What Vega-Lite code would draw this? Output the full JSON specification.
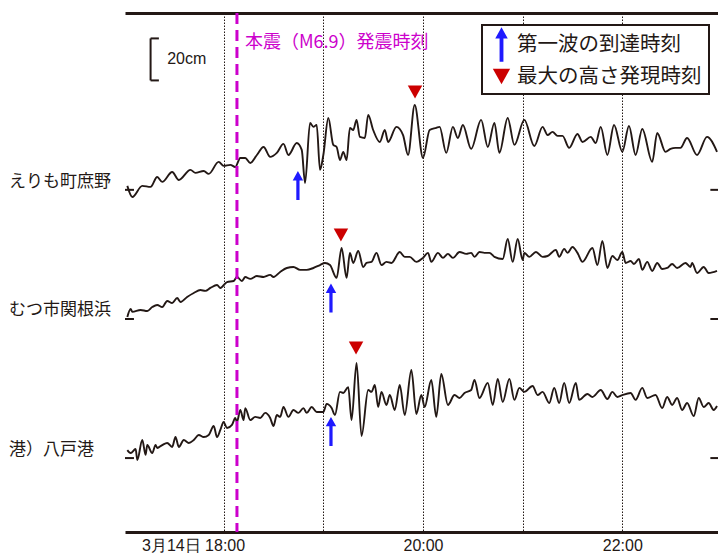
{
  "$schema": "https://vega.github.io/schema/vega-lite/v6.json",
  "width": 593,
  "height": 519,
  "autosize": {"type": "none"},
  "padding": {"left": 125, "top": 13, "right": 0, "bottom": 22},
  "background": "white",
  "config": {
    "view": {"stroke": null},
    "font": "Noto Sans CJK JP",
    "legend": {
      "orient": "none", "legendX": 357, "legendY": 12,
      "strokeColor": "#231815", "strokeWidth": 2, "fillColor": "white",
      "padding": 7, "labelFont": "Noto Sans CJK JP", "labelFontSize": 20.5,
      "labelColor": "#231815", "symbolSize": 580, "symbolStrokeWidth": 0,
      "labelOffset": 3, "rowPadding": 2, "labelLimit": 400
    }
  },
  "datasets": {
    "traces": [
      {"s":"えりも町庶野","t":"2025-03-14T17:02","v":164.8},
      {"s":"えりも町庶野","t":"2025-03-14T17:05","v":159.5},
      {"s":"えりも町庶野","t":"2025-03-14T17:11","v":164.8},
      {"s":"えりも町庶野","t":"2025-03-14T17:16","v":164.3},
      {"s":"えりも町庶野","t":"2025-03-14T17:20","v":169.0},
      {"s":"えりも町庶野","t":"2025-03-14T17:23","v":166.7},
      {"s":"えりも町庶野","t":"2025-03-14T17:29","v":171.4},
      {"s":"えりも町庶野","t":"2025-03-14T17:33","v":167.6},
      {"s":"えりも町庶野","t":"2025-03-14T17:40","v":172.4},
      {"s":"えりも町庶野","t":"2025-03-14T17:43","v":171.0},
      {"s":"えりも町庶野","t":"2025-03-14T17:48","v":171.9},
      {"s":"えりも町庶野","t":"2025-03-14T17:51","v":170.5},
      {"s":"えりも町庶野","t":"2025-03-14T17:57","v":176.2},
      {"s":"えりも町庶野","t":"2025-03-14T18:00","v":174.3},
      {"s":"えりも町庶野","t":"2025-03-14T18:04","v":174.8},
      {"s":"えりも町庶野","t":"2025-03-14T18:07","v":173.8},
      {"s":"えりも町庶野","t":"2025-03-14T18:10","v":178.1},
      {"s":"えりも町庶野","t":"2025-03-14T18:13","v":178.1},
      {"s":"えりも町庶野","t":"2025-03-14T18:16","v":175.7},
      {"s":"えりも町庶野","t":"2025-03-14T18:20","v":179.5},
      {"s":"えりも町庶野","t":"2025-03-14T18:24","v":183.3},
      {"s":"えりも町庶野","t":"2025-03-14T18:28","v":178.6},
      {"s":"えりも町庶野","t":"2025-03-14T18:32","v":180.5},
      {"s":"えりも町庶野","t":"2025-03-14T18:36","v":184.8},
      {"s":"えりも町庶野","t":"2025-03-14T18:39","v":179.5},
      {"s":"えりも町庶野","t":"2025-03-14T18:44","v":185.2},
      {"s":"えりも町庶野","t":"2025-03-14T18:47","v":181.9},
      {"s":"えりも町庶野","t":"2025-03-14T18:49","v":166.2},
      {"s":"えりも町庶野","t":"2025-03-14T18:52","v":194.8},
      {"s":"えりも町庶野","t":"2025-03-14T18:54","v":192.9},
      {"s":"えりも町庶野","t":"2025-03-14T18:56","v":193.8},
      {"s":"えりも町庶野","t":"2025-03-14T18:58","v":172.4},
      {"s":"えりも町庶野","t":"2025-03-14T19:00","v":179.5},
      {"s":"えりも町庶野","t":"2025-03-14T19:03","v":197.1},
      {"s":"えりも町庶野","t":"2025-03-14T19:06","v":184.3},
      {"s":"えりも町庶野","t":"2025-03-14T19:08","v":183.3},
      {"s":"えりも町庶野","t":"2025-03-14T19:10","v":177.1},
      {"s":"えりも町庶野","t":"2025-03-14T19:12","v":181.0},
      {"s":"えりも町庶野","t":"2025-03-14T19:14","v":177.1},
      {"s":"えりも町庶野","t":"2025-03-14T19:16","v":192.4},
      {"s":"えりも町庶野","t":"2025-03-14T19:18","v":191.4},
      {"s":"えりも町庶野","t":"2025-03-14T19:20","v":196.2},
      {"s":"えりも町庶野","t":"2025-03-14T19:22","v":188.1},
      {"s":"えりも町庶野","t":"2025-03-14T19:25","v":187.6},
      {"s":"えりも町庶野","t":"2025-03-14T19:27","v":198.6},
      {"s":"えりも町庶野","t":"2025-03-14T19:30","v":191.4},
      {"s":"えりも町庶野","t":"2025-03-14T19:34","v":185.7},
      {"s":"えりも町庶野","t":"2025-03-14T19:37","v":191.4},
      {"s":"えりも町庶野","t":"2025-03-14T19:39","v":185.7},
      {"s":"えりも町庶野","t":"2025-03-14T19:44","v":192.9},
      {"s":"えりも町庶野","t":"2025-03-14T19:48","v":189.0},
      {"s":"えりも町庶野","t":"2025-03-14T19:51","v":179.5},
      {"s":"えりも町庶野","t":"2025-03-14T19:55","v":203.3},
      {"s":"えりも町庶野","t":"2025-03-14T20:00","v":178.1},
      {"s":"えりも町庶野","t":"2025-03-14T20:04","v":191.4},
      {"s":"えりも町庶野","t":"2025-03-14T20:08","v":192.4},
      {"s":"えりも町庶野","t":"2025-03-14T20:10","v":192.9},
      {"s":"えりも町庶野","t":"2025-03-14T20:14","v":180.5},
      {"s":"えりも町庶野","t":"2025-03-14T20:18","v":192.9},
      {"s":"えりも町庶野","t":"2025-03-14T20:21","v":187.6},
      {"s":"えりも町庶野","t":"2025-03-14T20:24","v":193.8},
      {"s":"えりも町庶野","t":"2025-03-14T20:29","v":182.4},
      {"s":"えりも町庶野","t":"2025-03-14T20:35","v":196.2},
      {"s":"えりも町庶野","t":"2025-03-14T20:39","v":183.3},
      {"s":"えりも町庶野","t":"2025-03-14T20:43","v":194.8},
      {"s":"えりも町庶野","t":"2025-03-14T20:46","v":180.5},
      {"s":"えりも町庶野","t":"2025-03-14T20:51","v":197.1},
      {"s":"えりも町庶野","t":"2025-03-14T20:55","v":184.3},
      {"s":"えりも町庶野","t":"2025-03-14T21:01","v":196.2},
      {"s":"えりも町庶野","t":"2025-03-14T21:07","v":183.8},
      {"s":"えりも町庶野","t":"2025-03-14T21:12","v":192.9},
      {"s":"えりも町庶野","t":"2025-03-14T21:15","v":189.0},
      {"s":"えりも町庶野","t":"2025-03-14T21:18","v":190.5},
      {"s":"えりも町庶野","t":"2025-03-14T21:21","v":188.6},
      {"s":"えりも町庶野","t":"2025-03-14T21:24","v":188.6},
      {"s":"えりも町庶野","t":"2025-03-14T21:28","v":182.9},
      {"s":"えりも町庶野","t":"2025-03-14T21:33","v":189.5},
      {"s":"えりも町庶野","t":"2025-03-14T21:36","v":185.7},
      {"s":"えりも町庶野","t":"2025-03-14T21:41","v":188.1},
      {"s":"えりも町庶野","t":"2025-03-14T21:44","v":185.2},
      {"s":"えりも町庶野","t":"2025-03-14T21:47","v":192.9},
      {"s":"えりも町庶野","t":"2025-03-14T21:51","v":179.5},
      {"s":"えりも町庶野","t":"2025-03-14T21:55","v":193.8},
      {"s":"えりも町庶野","t":"2025-03-14T22:00","v":181.0},
      {"s":"えりも町庶野","t":"2025-03-14T22:04","v":193.3},
      {"s":"えりも町庶野","t":"2025-03-14T22:08","v":179.5},
      {"s":"えりも町庶野","t":"2025-03-14T22:12","v":191.9},
      {"s":"えりも町庶野","t":"2025-03-14T22:18","v":176.2},
      {"s":"えりも町庶野","t":"2025-03-14T22:21","v":190.0},
      {"s":"えりも町庶野","t":"2025-03-14T22:26","v":181.0},
      {"s":"えりも町庶野","t":"2025-03-14T22:29","v":182.4},
      {"s":"えりも町庶野","t":"2025-03-14T22:32","v":182.9},
      {"s":"えりも町庶野","t":"2025-03-14T22:35","v":182.9},
      {"s":"えりも町庶野","t":"2025-03-14T22:39","v":187.6},
      {"s":"えりも町庶野","t":"2025-03-14T22:45","v":179.5},
      {"s":"えりも町庶野","t":"2025-03-14T22:51","v":188.1},
      {"s":"えりも町庶野","t":"2025-03-14T22:57","v":181.0},

      {"s":"むつ市関根浜","t":"2025-03-14T17:02","v":102.4},
      {"s":"むつ市関根浜","t":"2025-03-14T17:04","v":106.2},
      {"s":"むつ市関根浜","t":"2025-03-14T17:05","v":104.8},
      {"s":"むつ市関根浜","t":"2025-03-14T17:10","v":105.7},
      {"s":"むつ市関根浜","t":"2025-03-14T17:14","v":105.2},
      {"s":"むつ市関根浜","t":"2025-03-14T17:17","v":107.1},
      {"s":"むつ市関根浜","t":"2025-03-14T17:20","v":108.1},
      {"s":"むつ市関根浜","t":"2025-03-14T17:23","v":107.1},
      {"s":"むつ市関根浜","t":"2025-03-14T17:26","v":110.0},
      {"s":"むつ市関根浜","t":"2025-03-14T17:29","v":109.0},
      {"s":"むつ市関根浜","t":"2025-03-14T17:32","v":111.4},
      {"s":"むつ市関根浜","t":"2025-03-14T17:34","v":109.5},
      {"s":"むつ市関根浜","t":"2025-03-14T17:38","v":111.9},
      {"s":"むつ市関根浜","t":"2025-03-14T17:42","v":113.8},
      {"s":"むつ市関根浜","t":"2025-03-14T17:46","v":115.2},
      {"s":"むつ市関根浜","t":"2025-03-14T17:49","v":114.8},
      {"s":"むつ市関根浜","t":"2025-03-14T17:52","v":116.2},
      {"s":"むつ市関根浜","t":"2025-03-14T17:56","v":117.6},
      {"s":"むつ市関根浜","t":"2025-03-14T17:58","v":116.2},
      {"s":"むつ市関根浜","t":"2025-03-14T18:02","v":119.0},
      {"s":"むつ市関根浜","t":"2025-03-14T18:06","v":119.5},
      {"s":"むつ市関根浜","t":"2025-03-14T18:08","v":121.4},
      {"s":"むつ市関根浜","t":"2025-03-14T18:11","v":119.5},
      {"s":"むつ市関根浜","t":"2025-03-14T18:13","v":121.4},
      {"s":"むつ市関根浜","t":"2025-03-14T18:16","v":120.5},
      {"s":"むつ市関根浜","t":"2025-03-14T18:20","v":121.9},
      {"s":"むつ市関根浜","t":"2025-03-14T18:24","v":121.4},
      {"s":"むつ市関根浜","t":"2025-03-14T18:28","v":122.4},
      {"s":"むつ市関根浜","t":"2025-03-14T18:30","v":121.4},
      {"s":"むつ市関根浜","t":"2025-03-14T18:34","v":123.8},
      {"s":"むつ市関根浜","t":"2025-03-14T18:38","v":125.7},
      {"s":"むつ市関根浜","t":"2025-03-14T18:42","v":126.2},
      {"s":"むつ市関根浜","t":"2025-03-14T18:46","v":124.8},
      {"s":"むつ市関根浜","t":"2025-03-14T18:50","v":124.8},
      {"s":"むつ市関根浜","t":"2025-03-14T18:54","v":125.7},
      {"s":"むつ市関根浜","t":"2025-03-14T18:58","v":127.1},
      {"s":"むつ市関根浜","t":"2025-03-14T19:01","v":128.1},
      {"s":"むつ市関根浜","t":"2025-03-14T19:04","v":127.1},
      {"s":"むつ市関根浜","t":"2025-03-14T19:08","v":121.0},
      {"s":"むつ市関根浜","t":"2025-03-14T19:11","v":135.2},
      {"s":"むつ市関根浜","t":"2025-03-14T19:14","v":121.0},
      {"s":"むつ市関根浜","t":"2025-03-14T19:16","v":132.9},
      {"s":"むつ市関根浜","t":"2025-03-14T19:18","v":128.1},
      {"s":"むつ市関根浜","t":"2025-03-14T19:21","v":133.8},
      {"s":"むつ市関根浜","t":"2025-03-14T19:24","v":126.2},
      {"s":"むつ市関根浜","t":"2025-03-14T19:26","v":128.1},
      {"s":"むつ市関根浜","t":"2025-03-14T19:29","v":128.6},
      {"s":"むつ市関根浜","t":"2025-03-14T19:32","v":132.9},
      {"s":"むつ市関根浜","t":"2025-03-14T19:35","v":127.1},
      {"s":"むつ市関根浜","t":"2025-03-14T19:38","v":128.6},
      {"s":"むつ市関根浜","t":"2025-03-14T19:41","v":128.1},
      {"s":"むつ市関根浜","t":"2025-03-14T19:46","v":133.3},
      {"s":"むつ市関根浜","t":"2025-03-14T19:49","v":131.0},
      {"s":"むつ市関根浜","t":"2025-03-14T19:52","v":131.0},
      {"s":"むつ市関根浜","t":"2025-03-14T19:56","v":128.6},
      {"s":"むつ市関根浜","t":"2025-03-14T20:00","v":130.5},
      {"s":"むつ市関根浜","t":"2025-03-14T20:03","v":132.9},
      {"s":"むつ市関根浜","t":"2025-03-14T20:05","v":128.6},
      {"s":"むつ市関根浜","t":"2025-03-14T20:09","v":132.9},
      {"s":"むつ市関根浜","t":"2025-03-14T20:12","v":130.5},
      {"s":"むつ市関根浜","t":"2025-03-14T20:15","v":132.4},
      {"s":"むつ市関根浜","t":"2025-03-14T20:18","v":130.5},
      {"s":"むつ市関根浜","t":"2025-03-14T20:22","v":133.3},
      {"s":"むつ市関根浜","t":"2025-03-14T20:26","v":132.4},
      {"s":"むつ市関根浜","t":"2025-03-14T20:29","v":132.9},
      {"s":"むつ市関根浜","t":"2025-03-14T20:31","v":131.0},
      {"s":"むつ市関根浜","t":"2025-03-14T20:34","v":133.3},
      {"s":"むつ市関根浜","t":"2025-03-14T20:37","v":132.9},
      {"s":"むつ市関根浜","t":"2025-03-14T20:40","v":132.9},
      {"s":"むつ市関根浜","t":"2025-03-14T20:43","v":131.0},
      {"s":"むつ市関根浜","t":"2025-03-14T20:48","v":130.0},
      {"s":"むつ市関根浜","t":"2025-03-14T20:51","v":139.5},
      {"s":"むつ市関根浜","t":"2025-03-14T20:54","v":128.6},
      {"s":"むつ市関根浜","t":"2025-03-14T20:57","v":139.5},
      {"s":"むつ市関根浜","t":"2025-03-14T21:00","v":129.5},
      {"s":"むつ市関根浜","t":"2025-03-14T21:01","v":132.9},
      {"s":"むつ市関根浜","t":"2025-03-14T21:04","v":131.0},
      {"s":"むつ市関根浜","t":"2025-03-14T21:08","v":133.3},
      {"s":"むつ市関根浜","t":"2025-03-14T21:12","v":131.0},
      {"s":"むつ市関根浜","t":"2025-03-14T21:15","v":131.4},
      {"s":"むつ市関根浜","t":"2025-03-14T21:20","v":134.3},
      {"s":"むつ市関根浜","t":"2025-03-14T21:22","v":131.0},
      {"s":"むつ市関根浜","t":"2025-03-14T21:25","v":134.8},
      {"s":"むつ市関根浜","t":"2025-03-14T21:27","v":132.9},
      {"s":"むつ市関根浜","t":"2025-03-14T21:30","v":135.7},
      {"s":"むつ市関根浜","t":"2025-03-14T21:33","v":132.9},
      {"s":"むつ市関根浜","t":"2025-03-14T21:36","v":128.6},
      {"s":"むつ市関根浜","t":"2025-03-14T21:42","v":135.2},
      {"s":"むつ市関根浜","t":"2025-03-14T21:45","v":127.1},
      {"s":"むつ市関根浜","t":"2025-03-14T21:48","v":138.6},
      {"s":"むつ市関根浜","t":"2025-03-14T21:51","v":125.7},
      {"s":"むつ市関根浜","t":"2025-03-14T21:54","v":131.4},
      {"s":"むつ市関根浜","t":"2025-03-14T21:57","v":129.5},
      {"s":"むつ市関根浜","t":"2025-03-14T22:00","v":133.3},
      {"s":"むつ市関根浜","t":"2025-03-14T22:02","v":128.1},
      {"s":"むつ市関根浜","t":"2025-03-14T22:05","v":129.0},
      {"s":"むつ市関根浜","t":"2025-03-14T22:07","v":127.6},
      {"s":"むつ市関根浜","t":"2025-03-14T22:10","v":130.0},
      {"s":"むつ市関根浜","t":"2025-03-14T22:12","v":124.8},
      {"s":"むつ市関根浜","t":"2025-03-14T22:15","v":128.6},
      {"s":"むつ市関根浜","t":"2025-03-14T22:18","v":124.3},
      {"s":"むつ市関根浜","t":"2025-03-14T22:21","v":128.1},
      {"s":"むつ市関根浜","t":"2025-03-14T22:24","v":125.2},
      {"s":"むつ市関根浜","t":"2025-03-14T22:27","v":125.7},
      {"s":"むつ市関根浜","t":"2025-03-14T22:30","v":127.6},
      {"s":"むつ市関根浜","t":"2025-03-14T22:33","v":125.7},
      {"s":"むつ市関根浜","t":"2025-03-14T22:38","v":128.1},
      {"s":"むつ市関根浜","t":"2025-03-14T22:41","v":126.2},
      {"s":"むつ市関根浜","t":"2025-03-14T22:42","v":128.1},
      {"s":"むつ市関根浜","t":"2025-03-14T22:45","v":123.3},
      {"s":"むつ市関根浜","t":"2025-03-14T22:49","v":126.2},
      {"s":"むつ市関根浜","t":"2025-03-14T22:52","v":123.3},
      {"s":"むつ市関根浜","t":"2025-03-14T22:57","v":124.3},

      {"s":"八戸港","t":"2025-03-14T17:02","v":39.0},
      {"s":"八戸港","t":"2025-03-14T17:04","v":37.6},
      {"s":"八戸港","t":"2025-03-14T17:07","v":39.5},
      {"s":"八戸港","t":"2025-03-14T17:08","v":34.3},
      {"s":"八戸港","t":"2025-03-14T17:11","v":43.8},
      {"s":"八戸港","t":"2025-03-14T17:13","v":36.7},
      {"s":"八戸港","t":"2025-03-14T17:14","v":41.4},
      {"s":"八戸港","t":"2025-03-14T17:17","v":37.6},
      {"s":"八戸港","t":"2025-03-14T17:19","v":41.4},
      {"s":"八戸港","t":"2025-03-14T17:20","v":40.0},
      {"s":"八戸港","t":"2025-03-14T17:23","v":41.4},
      {"s":"八戸港","t":"2025-03-14T17:26","v":42.4},
      {"s":"八戸港","t":"2025-03-14T17:29","v":40.5},
      {"s":"八戸港","t":"2025-03-14T17:31","v":45.2},
      {"s":"八戸港","t":"2025-03-14T17:33","v":40.5},
      {"s":"八戸港","t":"2025-03-14T17:36","v":43.8},
      {"s":"八戸港","t":"2025-03-14T17:39","v":42.4},
      {"s":"八戸港","t":"2025-03-14T17:42","v":43.8},
      {"s":"八戸港","t":"2025-03-14T17:45","v":46.2},
      {"s":"八戸港","t":"2025-03-14T17:48","v":45.2},
      {"s":"八戸港","t":"2025-03-14T17:51","v":46.2},
      {"s":"八戸港","t":"2025-03-14T17:54","v":50.5},
      {"s":"八戸港","t":"2025-03-14T17:56","v":45.2},
      {"s":"八戸港","t":"2025-03-14T17:58","v":48.6},
      {"s":"八戸港","t":"2025-03-14T18:00","v":52.4},
      {"s":"八戸港","t":"2025-03-14T18:02","v":49.5},
      {"s":"八戸港","t":"2025-03-14T18:05","v":51.0},
      {"s":"八戸港","t":"2025-03-14T18:07","v":54.3},
      {"s":"八戸港","t":"2025-03-14T18:08","v":52.4},
      {"s":"八戸港","t":"2025-03-14T18:10","v":58.1},
      {"s":"八戸港","t":"2025-03-14T18:12","v":53.3},
      {"s":"八戸港","t":"2025-03-14T18:13","v":59.0},
      {"s":"八戸港","t":"2025-03-14T18:16","v":53.3},
      {"s":"八戸港","t":"2025-03-14T18:19","v":54.8},
      {"s":"八戸港","t":"2025-03-14T18:22","v":54.3},
      {"s":"八戸港","t":"2025-03-14T18:25","v":56.7},
      {"s":"八戸港","t":"2025-03-14T18:28","v":54.3},
      {"s":"八戸港","t":"2025-03-14T18:30","v":50.5},
      {"s":"八戸港","t":"2025-03-14T18:32","v":55.7},
      {"s":"八戸港","t":"2025-03-14T18:34","v":54.8},
      {"s":"八戸港","t":"2025-03-14T18:36","v":59.5},
      {"s":"八戸港","t":"2025-03-14T18:39","v":54.8},
      {"s":"八戸港","t":"2025-03-14T18:42","v":58.1},
      {"s":"八戸港","t":"2025-03-14T18:45","v":56.7},
      {"s":"八戸港","t":"2025-03-14T18:48","v":59.0},
      {"s":"八戸港","t":"2025-03-14T18:50","v":56.7},
      {"s":"八戸港","t":"2025-03-14T18:53","v":59.5},
      {"s":"八戸港","t":"2025-03-14T18:56","v":57.1},
      {"s":"八戸港","t":"2025-03-14T19:00","v":57.1},
      {"s":"八戸港","t":"2025-03-14T19:02","v":61.0},
      {"s":"八戸港","t":"2025-03-14T19:05","v":59.0},
      {"s":"八戸港","t":"2025-03-14T19:07","v":55.7},
      {"s":"八戸港","t":"2025-03-14T19:10","v":66.7},
      {"s":"八戸港","t":"2025-03-14T19:12","v":66.2},
      {"s":"八戸港","t":"2025-03-14T19:15","v":69.0},
      {"s":"八戸港","t":"2025-03-14T19:17","v":53.3},
      {"s":"八戸港","t":"2025-03-14T19:20","v":80.5},
      {"s":"八戸港","t":"2025-03-14T19:23","v":45.7},
      {"s":"八戸港","t":"2025-03-14T19:27","v":67.6},
      {"s":"八戸港","t":"2025-03-14T19:29","v":66.7},
      {"s":"八戸港","t":"2025-03-14T19:31","v":70.0},
      {"s":"八戸港","t":"2025-03-14T19:33","v":59.5},
      {"s":"八戸港","t":"2025-03-14T19:35","v":66.7},
      {"s":"八戸港","t":"2025-03-14T19:38","v":60.5},
      {"s":"八戸港","t":"2025-03-14T19:40","v":65.2},
      {"s":"八戸港","t":"2025-03-14T19:43","v":58.1},
      {"s":"八戸港","t":"2025-03-14T19:46","v":70.0},
      {"s":"八戸港","t":"2025-03-14T19:49","v":55.7},
      {"s":"八戸港","t":"2025-03-14T19:53","v":77.1},
      {"s":"八戸港","t":"2025-03-14T19:56","v":56.2},
      {"s":"八戸港","t":"2025-03-14T19:59","v":65.2},
      {"s":"八戸港","t":"2025-03-14T20:01","v":59.5},
      {"s":"八戸港","t":"2025-03-14T20:05","v":72.4},
      {"s":"八戸港","t":"2025-03-14T20:08","v":54.8},
      {"s":"八戸港","t":"2025-03-14T20:11","v":75.2},
      {"s":"八戸港","t":"2025-03-14T20:15","v":60.5},
      {"s":"八戸港","t":"2025-03-14T20:19","v":65.2},
      {"s":"八戸港","t":"2025-03-14T20:22","v":63.8},
      {"s":"八戸港","t":"2025-03-14T20:25","v":66.2},
      {"s":"八戸港","t":"2025-03-14T20:29","v":67.6},
      {"s":"八戸港","t":"2025-03-14T20:31","v":72.4},
      {"s":"八戸港","t":"2025-03-14T20:34","v":63.8},
      {"s":"八戸港","t":"2025-03-14T20:39","v":71.0},
      {"s":"八戸港","t":"2025-03-14T20:42","v":60.5},
      {"s":"八戸港","t":"2025-03-14T20:45","v":72.9},
      {"s":"八戸港","t":"2025-03-14T20:48","v":61.9},
      {"s":"八戸港","t":"2025-03-14T20:52","v":72.9},
      {"s":"八戸港","t":"2025-03-14T20:55","v":62.9},
      {"s":"八戸港","t":"2025-03-14T20:58","v":68.6},
      {"s":"八戸港","t":"2025-03-14T21:01","v":66.7},
      {"s":"八戸港","t":"2025-03-14T21:06","v":69.5},
      {"s":"八戸港","t":"2025-03-14T21:09","v":65.2},
      {"s":"八戸港","t":"2025-03-14T21:12","v":66.7},
      {"s":"八戸港","t":"2025-03-14T21:16","v":61.4},
      {"s":"八戸港","t":"2025-03-14T21:19","v":68.6},
      {"s":"八戸港","t":"2025-03-14T21:22","v":61.4},
      {"s":"八戸港","t":"2025-03-14T21:25","v":71.0},
      {"s":"八戸港","t":"2025-03-14T21:28","v":61.4},
      {"s":"八戸港","t":"2025-03-14T21:32","v":71.0},
      {"s":"八戸港","t":"2025-03-14T21:34","v":62.9},
      {"s":"八戸港","t":"2025-03-14T21:39","v":65.7},
      {"s":"八戸港","t":"2025-03-14T21:42","v":64.3},
      {"s":"八戸港","t":"2025-03-14T21:47","v":67.6},
      {"s":"八戸港","t":"2025-03-14T21:51","v":63.3},
      {"s":"八戸港","t":"2025-03-14T21:54","v":66.7},
      {"s":"八戸港","t":"2025-03-14T21:57","v":64.3},
      {"s":"八戸港","t":"2025-03-14T22:00","v":65.2},
      {"s":"八戸港","t":"2025-03-14T22:05","v":66.2},
      {"s":"八戸港","t":"2025-03-14T22:08","v":62.9},
      {"s":"八戸港","t":"2025-03-14T22:12","v":68.6},
      {"s":"八戸港","t":"2025-03-14T22:15","v":63.8},
      {"s":"八戸港","t":"2025-03-14T22:20","v":65.2},
      {"s":"八戸港","t":"2025-03-14T22:24","v":59.0},
      {"s":"八戸港","t":"2025-03-14T22:27","v":64.3},
      {"s":"八戸港","t":"2025-03-14T22:30","v":60.5},
      {"s":"八戸港","t":"2025-03-14T22:33","v":63.8},
      {"s":"八戸港","t":"2025-03-14T22:36","v":58.1},
      {"s":"八戸港","t":"2025-03-14T22:39","v":61.4},
      {"s":"八戸港","t":"2025-03-14T22:43","v":55.2},
      {"s":"八戸港","t":"2025-03-14T22:46","v":63.8},
      {"s":"八戸港","t":"2025-03-14T22:49","v":59.5},
      {"s":"八戸港","t":"2025-03-14T22:52","v":61.4},
      {"s":"八戸港","t":"2025-03-14T22:55","v":58.1},
      {"s":"八戸港","t":"2025-03-14T22:57","v":60.0}
    ],
    "rules": [
      {"t":"2025-03-14T17:00:36","t2":"2025-03-14T17:06","v":162.9,"v2":162.9},
      {"t":"2025-03-14T17:00:36","t2":"2025-03-14T17:06","v":101.4,"v2":101.4},
      {"t":"2025-03-14T17:00:36","t2":"2025-03-14T17:06","v":35.2,"v2":35.2},
      {"t":"2025-03-14T22:53","t2":"2025-03-14T22:58","v":162.9,"v2":162.9},
      {"t":"2025-03-14T22:53","t2":"2025-03-14T22:58","v":101.4,"v2":101.4},
      {"t":"2025-03-14T22:53","t2":"2025-03-14T22:58","v":35.2,"v2":35.2},
      {"t":"2025-03-14T17:16","t2":"2025-03-14T17:16","v":215,"v2":235},
      {"t":"2025-03-14T17:16","t2":"2025-03-14T17:21","v":215,"v2":215},
      {"t":"2025-03-14T17:16","t2":"2025-03-14T17:21","v":235,"v2":235}
    ],
    "markers": [
      {"t":"2025-03-14T18:44:42","v":165.0,"k":"第一波の到達時刻"},
      {"t":"2025-03-14T19:04:36","v":111.4,"k":"第一波の到達時刻"},
      {"t":"2025-03-14T19:04:36","v":47.9,"k":"第一波の到達時刻"},
      {"t":"2025-03-14T19:55:12","v":209.5,"k":"最大の高さ発現時刻"},
      {"t":"2025-03-14T19:10:36","v":141.4,"k":"最大の高さ発現時刻"},
      {"t":"2025-03-14T19:19:42","v":87.6,"k":"最大の高さ発現時刻"}
    ],
    "stations": [
      {"t":"2025-03-14T17:00:36","v":166.7,"label":"えりも町庶野"},
      {"t":"2025-03-14T17:00:36","v":105.7,"label":"むつ市関根浜"},
      {"t":"2025-03-14T17:00:36","v":39.0,"label":"港）八戸港"}
    ]
  },
  "resolve": {"scale": {"x": "shared", "y": "shared"}, "axis": {"x": "independent"}},
  "layer": [
    {
      "data": {"name": "traces"},
      "mark": {"type": "line", "color": "#231815", "strokeWidth": 1.9, "interpolate": "monotone"},
      "encoding": {
        "x": {
          "field": "t", "type": "temporal",
          "scale": {"domain": [
            {"year": 2025, "month": 3, "date": 14, "hours": 17, "minutes": 0, "seconds": 36},
            {"year": 2025, "month": 3, "date": 14, "hours": 22, "minutes": 57, "seconds": 36}
          ], "nice": false},
          "axis": {
            "orient": "bottom", "title": null,
            "values": [
              {"year": 2025, "month": 3, "date": 14, "hours": 18},
              {"year": 2025, "month": 3, "date": 14, "hours": 19},
              {"year": 2025, "month": 3, "date": 14, "hours": 20},
              {"year": 2025, "month": 3, "date": 14, "hours": 21},
              {"year": 2025, "month": 3, "date": 14, "hours": 22}
            ],
            "labelExpr": "hours(datum.value) % 2 == 0 ? (hours(datum.value) == 18 ? '3月14日 18:00' : timeFormat(datum.value, '%H:%M')) : ''",
            "labelAlign": {"condition": {"test": "hours(datum.value) == 18", "value": "right"}, "value": "center"},
            "labelOffset": {"condition": {"test": "hours(datum.value) == 18", "value": 21}, "value": 0},
            "labelOverlap": false, "labelBound": false, "labelFlush": false,
            "labelFont": "Liberation Sans", "labelFontSize": 16, "labelColor": "#231815",
            "labelPadding": 5,
            "ticks": false,
            "domain": true, "domainWidth": 3, "domainColor": "#231815",
            "grid": true, "gridColor": "#231815", "gridWidth": 1, "gridDash": [1.5, 1.5], "gridOpacity": 1
          }
        },
        "y": {
          "field": "v", "type": "quantitative",
          "scale": {"domain": [0, 247.1], "nice": false, "zero": false},
          "axis": {
            "orient": "left", "title": null, "labels": false, "ticks": false, "grid": false,
            "domain": true, "domainWidth": 3, "domainColor": "#231815"
          }
        },
        "detail": {"field": "s", "type": "nominal"}
      }
    },
    {
      "data": {"values": [{"t": "2025-03-14T18:08"}]},
      "mark": {"type": "rule", "color": "#cc00cc", "strokeWidth": 3, "strokeDash": [11, 6]},
      "encoding": {
        "x": {
          "field": "t", "type": "temporal",
          "axis": {"orient": "top", "title": null, "labels": false, "ticks": false, "grid": false,
                   "domain": true, "domainWidth": 3, "domainColor": "#231815"}
        }
      }
    },
    {
      "data": {"name": "rules"},
      "mark": {"type": "rule", "color": "#231815", "strokeWidth": 2},
      "encoding": {
        "x": {"field": "t", "type": "temporal", "axis": null},
        "x2": {"field": "t2"},
        "y": {"field": "v", "type": "quantitative", "axis": null},
        "y2": {"field": "v2"}
      }
    },
    {
      "data": {"name": "markers"},
      "mark": {"type": "point", "filled": true, "size": 405, "opacity": 1, "strokeWidth": 0},
      "encoding": {
        "x": {"field": "t", "type": "temporal", "axis": null},
        "y": {"field": "v", "type": "quantitative", "axis": null},
        "shape": {
          "field": "k", "type": "nominal", "title": null,
          "legend": {"symbolSize": 580, "labelLimit": 400},
          "scale": {
            "domain": ["第一波の到達時刻", "最大の高さ発現時刻"],
            "range": [
              "M0,-1.44L-0.52,-0.5L-0.16,-0.5L-0.16,1.44L0.16,1.44L0.16,-0.5L0.52,-0.5Z",
              "M-0.72,-0.65L0.72,-0.65L0,0.65Z"
            ]
          }
        },
        "color": {
          "field": "k", "type": "nominal", "title": null,
          "legend": {"symbolSize": 580, "labelLimit": 400},
          "scale": {"domain": ["第一波の到達時刻", "最大の高さ発現時刻"], "range": ["#1f1aff", "#cc0000"]}
        }
      }
    },
    {
      "data": {"values": [{"t": "2025-03-14T17:26", "v": 225, "label": "20cm"}]},
      "mark": {"type": "text", "align": "left", "baseline": "middle", "font": "Liberation Sans", "fontSize": 16, "color": "#231815"},
      "encoding": {
        "x": {"field": "t", "type": "temporal", "axis": null},
        "y": {"field": "v", "type": "quantitative", "axis": null},
        "text": {"field": "label"}
      }
    },
    {
      "data": {"values": [{"t": "2025-03-14T18:08", "v": 233, "label": "本震（M6.9）発震時刻"}]},
      "mark": {"type": "text", "align": "left", "baseline": "middle", "dx": 8, "font": "Noto Sans CJK JP", "fontSize": 18, "color": "#cc00cc"},
      "encoding": {
        "x": {"field": "t", "type": "temporal", "axis": null},
        "y": {"field": "v", "type": "quantitative", "axis": null},
        "text": {"field": "label"}
      }
    },
    {
      "data": {"name": "stations"},
      "mark": {"type": "text", "align": "left", "baseline": "middle", "dx": -116, "font": "Noto Sans CJK JP", "fontSize": 17, "color": "#231815"},
      "encoding": {
        "x": {"field": "t", "type": "temporal", "axis": null},
        "y": {"field": "v", "type": "quantitative", "axis": null},
        "text": {"field": "label"}
      }
    }
  ]
}
